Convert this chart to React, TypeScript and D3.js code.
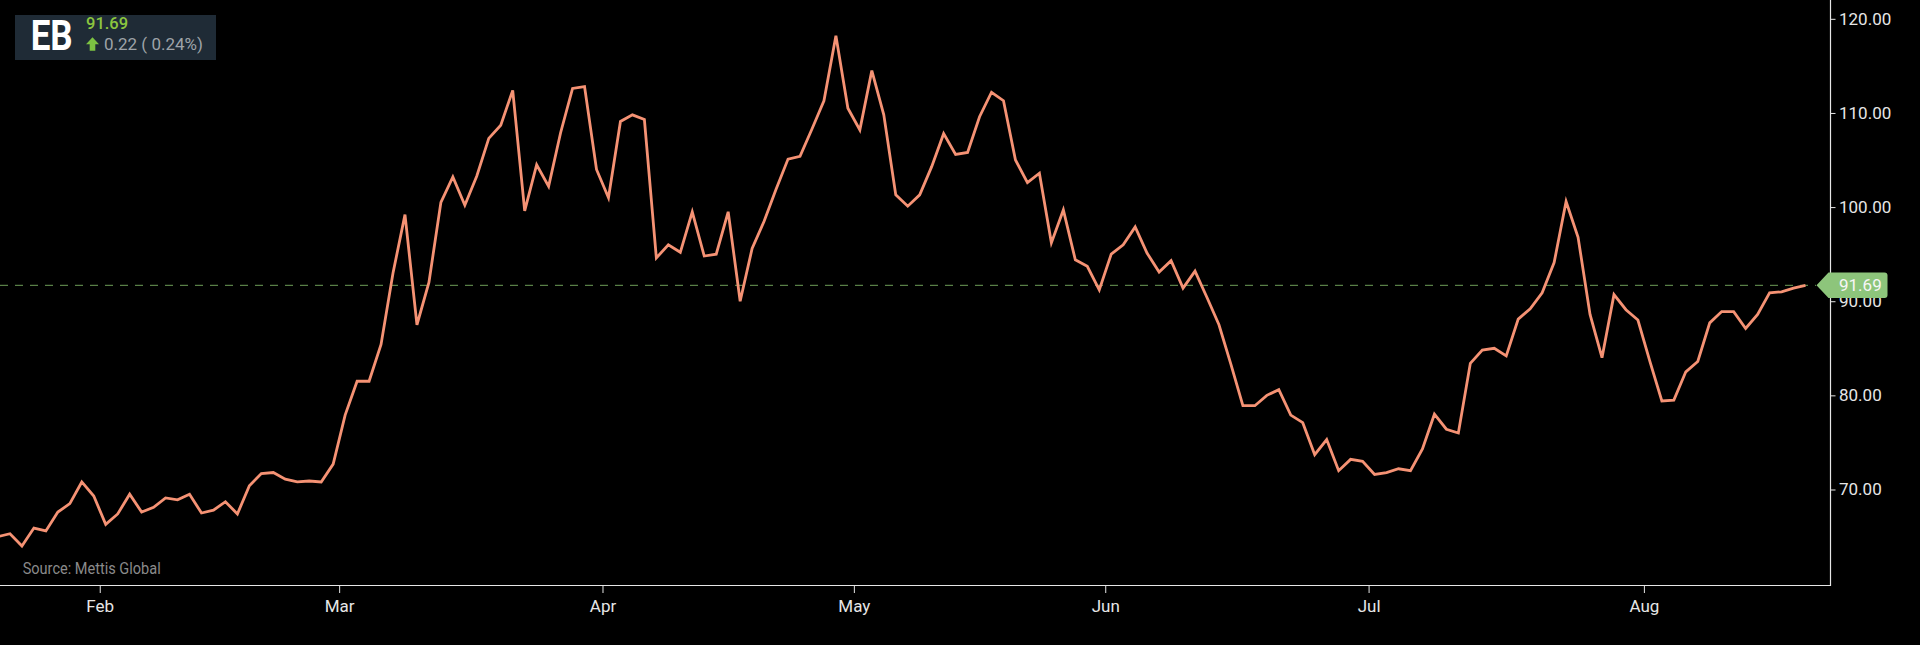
import { useEffect, useRef } from "react"
import * as d3 from "d3"

// Daily closes, grouped by month (trading days only)
const months = ["Jan", "Feb", "Mar", "Apr", "May", "Jun", "Jul", "Aug"]
const jan = [65.0, 65.3, 64.0, 65.9, 65.6, 67.6, 68.5, 70.8, 69.3]
const feb = [
  66.3, 67.4, 69.5, 67.6, 68.1, 69.1, 68.9, 69.5, 67.5, 67.8, 68.7, 67.4, 70.4, 71.7, 71.8, 71.1, 70.8,
  70.9, 70.8, 72.7,
]
const mar = [
  77.9, 81.5, 81.5, 85.4, 93.0, 99.2, 87.5, 92.0, 100.5, 103.2, 100.2, 103.3, 107.3, 108.7, 112.4, 99.6,
  104.5, 102.2, 107.9, 112.6, 112.8, 104.0,
]
const apr = [
  101.0, 109.1, 109.8, 109.3, 94.6, 96.0, 95.2, 99.5, 94.8, 95.0, 99.5, 90.0, 95.6, 98.5, 101.9, 105.1,
  105.4, 108.3, 111.3, 118.2, 110.5,
]
const may = [
  108.2, 114.5, 109.8, 101.3, 100.1, 101.3, 104.3, 107.8, 105.6, 105.8, 109.6, 112.2, 111.3, 105.0, 102.6,
  103.6, 96.2, 99.7, 94.4, 93.7, 91.2,
]
const jun = [
  95.0, 96.0, 97.9, 95.1, 93.1, 94.3, 91.4, 93.2, 90.4, 87.5, 83.3, 78.9, 78.9, 80.0, 80.6, 77.9, 77.1,
  73.7, 75.3, 72.0, 73.2, 73.0,
]
const jul = [
  71.6, 71.8, 72.2, 72.0, 74.3, 78.0, 76.4, 76.0, 83.4, 84.8, 85.0, 84.2, 88.1, 89.2, 90.9, 94.1, 100.6,
  96.8, 88.6, 84.0, 90.7, 89.1, 88.0,
]
const aug = [83.6, 79.4, 79.5, 82.5, 83.6, 87.7, 88.9, 88.9, 87.1, 88.6, 90.9, 91.0, 91.4, 91.69]
const monthlyCloses = [jan, feb, mar, apr, may, jun, jul, aug]

const yTicks = [70, 80, 90, 100, 110, 120]
const symbol = "EB"
const lastPrice = 91.69
const change = 0.22
const changePct = 0.24
const sourceText = "Source: Mettis Global"

export default function App() {
  const svgRef = useRef<SVGSVGElement>(null)

  useEffect(() => {
    if (!svgRef.current) return
    const svg = d3.select(svgRef.current)
    svg.selectAll("*").remove()

    const width = 1920
    const height = 645
    const plot = { left: 0, right: 1830.5, top: 0, bottom: 585.5 }
    const font = "Roboto, 'Noto Sans', sans-serif"

    const closes = monthlyCloses.flat()
    // index of the first trading day of each month
    const starts: number[] = []
    let acc = 0
    monthlyCloses.forEach((m) => {
      starts.push(acc)
      acc += m.length
    })

    const x = d3.scaleLinear().domain([0, closes.length - 1]).range([-2, 1805.5])
    const y = d3.scaleLinear().domain([59.8, 122]).range([plot.bottom, plot.top])

    svg.attr("width", width).attr("height", height).attr("viewBox", [0, 0, width, height])

    svg.append("rect").attr("width", width).attr("height", height).attr("fill", "#000")

    // clip for the series
    svg
      .append("defs")
      .append("clipPath")
      .attr("id", "plot-clip")
      .append("rect")
      .attr("x", plot.left)
      .attr("y", plot.top)
      .attr("width", plot.right - plot.left)
      .attr("height", plot.bottom - plot.top)

    // last price dashed line
    svg
      .append("line")
      .attr("x1", plot.left)
      .attr("x2", 1816)
      .attr("y1", y(lastPrice))
      .attr("y2", y(lastPrice))
      .attr("stroke", "#6e9e58")
      .attr("stroke-width", 1)
      .attr("stroke-dasharray", "8,7")

    // price line
    const line = d3
      .line<number>()
      .x((_, i) => x(i))
      .y((d) => y(d))
    svg
      .append("path")
      .datum(closes)
      .attr("clip-path", "url(#plot-clip)")
      .attr("d", line)
      .attr("fill", "none")
      .attr("stroke", "#f59274")
      .attr("stroke-width", 2.8)
      .attr("stroke-linejoin", "miter")

    // x axis
    const xAxis = d3
      .axisBottom(x)
      .tickValues(starts.slice(1).map((s) => s - 0.5))
      .tickFormat((_, i) => months[i + 1])
      .tickSize(7.5)
      .tickSizeOuter(0)
      .tickPadding(6.5)
    const gx = svg.append("g").attr("transform", `translate(0,${plot.bottom})`).call(xAxis)
    gx.select(".domain").remove()
    gx.selectAll(".tick line").attr("stroke", "#e6e6e6")
    gx.selectAll(".tick text").attr("fill", "#e6e6e6").attr("font-size", 17).attr("font-family", font)

    // y axis
    const yAxis = d3
      .axisRight(y)
      .tickValues(yTicks)
      .tickFormat(d3.format(".2f"))
      .tickSize(5)
      .tickSizeOuter(0)
      .tickPadding(3.5)
    const gy = svg.append("g").attr("transform", `translate(${plot.right},0)`).call(yAxis)
    gy.select(".domain").remove()
    gy.selectAll(".tick line").attr("stroke", "#e6e6e6")
    gy.selectAll(".tick text").attr("fill", "#e6e6e6").attr("font-size", 17).attr("font-family", font)

    // axis lines
    svg
      .append("path")
      .attr("d", `M${plot.left},${plot.bottom}H${plot.right}V${plot.top}`)
      .attr("fill", "none")
      .attr("stroke", "#e6e6e6")
      .attr("stroke-width", 1.2)

    // last price flag
    const yc = y(lastPrice)
    const h = 12.8
    svg
      .append("path")
      .attr(
        "d",
        `M1816.5,${yc}L1828.5,${yc - h}H1884.5Q1887.5,${yc - h} 1887.5,${yc - h + 3}V${yc + h - 3}Q1887.5,${
          yc + h
        } 1884.5,${yc + h}H1828.5Z`
      )
      .attr("fill", "#8dc57b")
    svg
      .append("text")
      .attr("x", 1839)
      .attr("y", yc)
      .attr("dy", "0.35em")
      .attr("fill", "#f6f6f6")
      .attr("font-size", 17)
      .attr("font-family", font)
      .text(lastPrice.toFixed(2))

    // header box
    const header = svg.append("g")
    header
      .append("rect")
      .attr("x", 15)
      .attr("y", 15)
      .attr("width", 201)
      .attr("height", 45)
      .attr("fill", "#1f2b36")
    header
      .append("text")
      .attr("x", 30.7)
      .attr("y", 50)
      .attr("fill", "#ffffff")
      .attr("font-size", 42)
      .attr("font-weight", 700)
      .attr("font-family", font)
      .attr("textLength", 42)
      .attr("lengthAdjust", "spacingAndGlyphs")
      .text(symbol)
    header
      .append("text")
      .attr("x", 86)
      .attr("y", 29.3)
      .attr("fill", "#8cc63f")
      .attr("font-size", 16.5)
      .attr("font-weight", 500)
      .attr("font-family", font)
      .text(lastPrice.toFixed(2))
    header
      .append("path")
      .attr("d", "M86,44.3L92.5,37.3L99,44.3H95.3V50.7H89.7V44.3Z")
      .attr("fill", "#7cc242")
    header
      .append("text")
      .attr("x", 104)
      .attr("y", 50)
      .attr("fill", "#9ea3a8")
      .attr("font-size", 17)
      .attr("font-family", font)
      .text(`${change.toFixed(2)} ( ${changePct.toFixed(2)}%)`)

    // source note
    svg
      .append("text")
      .attr("x", 22.7)
      .attr("y", 574)
      .attr("fill", "#8a8a8a")
      .attr("font-size", 16)
      .attr("font-family", font)
      .attr("textLength", 138)
      .attr("lengthAdjust", "spacingAndGlyphs")
      .text(sourceText)
  }, [])

  return (
    <div style={{ position: "fixed", left: 0, top: 0, width: 1920, height: 645, background: "#000" }}>
      <svg ref={svgRef} style={{ display: "block" }} />
    </div>
  )
}
